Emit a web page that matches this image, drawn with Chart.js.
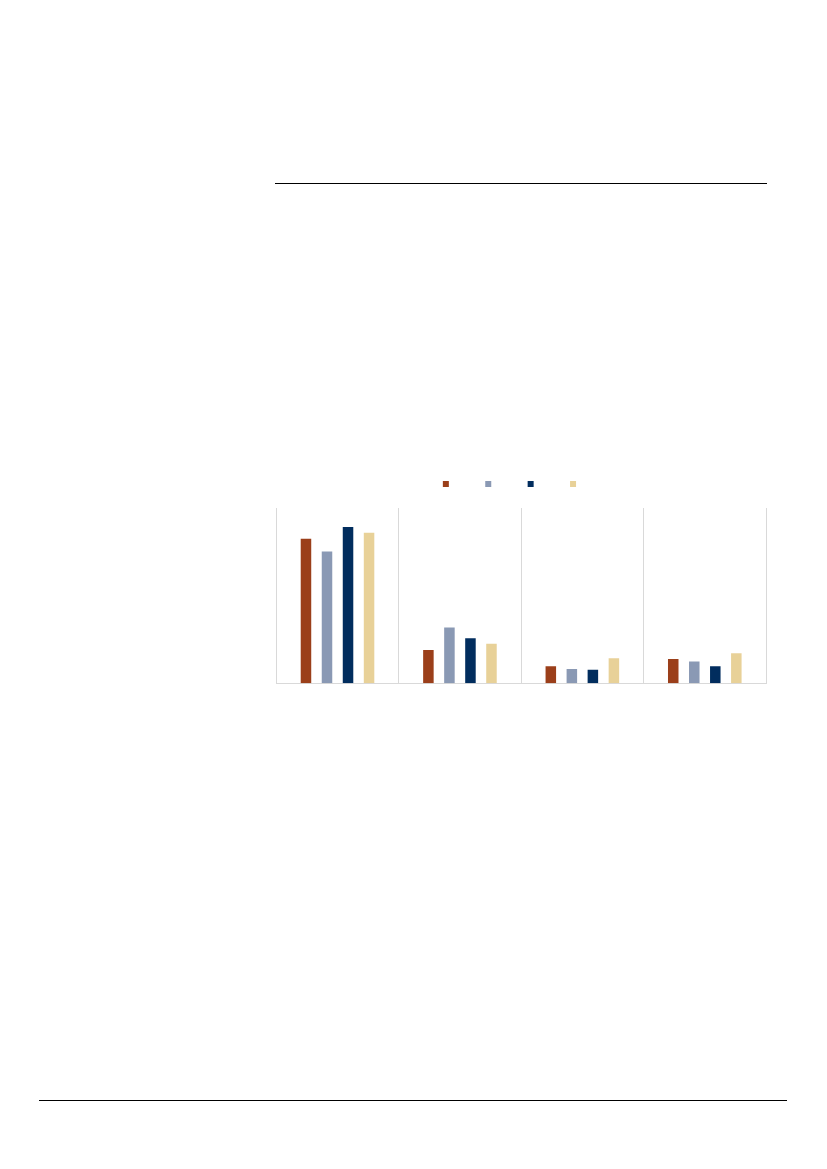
<!DOCTYPE html>
<html>
<head>
<meta charset="utf-8">
<script src="https://cdn.jsdelivr.net/npm/chart.js@4"></script>
<style>
  html, body { margin: 0; padding: 0; background: #ffffff; }
  body { width: 827px; height: 1169px; position: relative; overflow: hidden; }
  #wrap { position: absolute; left: 256px; top: 440px; width: 530px; height: 260px; }
  .rule { position: absolute; background: #000000; height: 1px; }
</style>
</head>
<body>
<div class="rule" style="left:275px; top:183px; width:492px;"></div>
<div class="rule" style="left:39px; top:1100px; width:748px;"></div>
<div id="wrap"><canvas id="c"></canvas></div>
<script>
// Data (y axis scaled 0-100)
const categories = ['1', '2', '3', '4'];
const seriesLabels = ['', '', '', ''];
const series1 = [82.5, 19.0, 9.7, 13.9];
const series2 = [75.2, 31.8, 8.2, 12.4];
const series3 = [89.1, 25.7, 7.8, 9.7];
const series4 = [85.9, 22.5, 14.3, 17.1];
const colors = ['#9B3F1A', '#8A99B4', '#012D5E', '#E8D198'];

const allSeries = [series1, series2, series3, series4];

new Chart(document.getElementById('c'), {
  type: 'bar',
  data: {
    labels: categories,
    datasets: allSeries.map((d, i) => ({
      label: seriesLabels[i],
      data: d,
      backgroundColor: colors[i],
      borderWidth: 0,
      barPercentage: 0.5,
      categoryPercentage: 0.687
    }))
  },
  options: {
    responsive: true,
    maintainAspectRatio: false,
    animation: false,
    layout: { padding: { left: 10.9, right: 20, top: 7.6, bottom: 16.7 } },
    plugins: {
      tooltip: { enabled: false },
      legend: {
        display: true,
        position: 'top',
        labels: {
          boxWidth: 6,
          boxHeight: 6,
          padding: 22.4,
          font: { size: 28, family: 'Liberation Sans' },
          color: '#595959'
        }
      }
    },
    scales: {
      x: {
        grid: { display: true, offset: true, color: '#d9d9d9', lineWidth: 1, drawTicks: false },
        border: { display: true, color: '#d9d9d9', width: 1 },
        ticks: { display: false }
      },
      y: {
        min: 0,
        max: 100,
        grid: { display: false, drawTicks: false },
        border: { display: false },
        ticks: { display: false },
        afterFit: (scale) => { scale.width = 9.4; }
      }
    }
  }
});
</script>
</body>
</html>
